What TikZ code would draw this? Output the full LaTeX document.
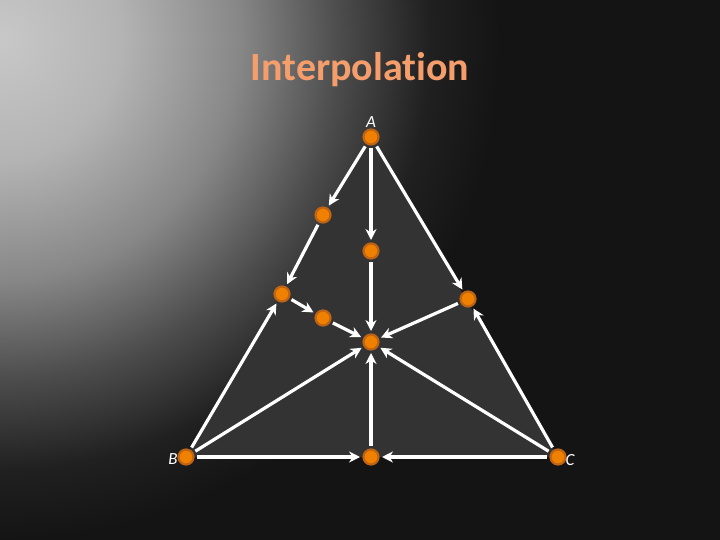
\documentclass[tikz,border=0pt]{standalone}
\usepackage{fontspec}
\setmainfont[Ligatures=NoCommon]{Carlito}
\usetikzlibrary{arrows.meta}
\definecolor{bgdark}{RGB}{20,20,20}
\definecolor{trifill}{RGB}{51,51,51}
\definecolor{titlecol}{RGB}{245,158,108}
\definecolor{ptfill}{RGB}{240,128,0}
\definecolor{ptring}{RGB}{190,100,20}
\pgfdeclareradialshading{bgshade}{\pgfpoint{0bp}{0bp}}{%
  color(0bp)=(rgb,255:red,200;green,200;blue,200);
  color(6bp)=(rgb,255:red,180;green,180;blue,180);
  color(12bp)=(rgb,255:red,135;green,135;blue,135);
  color(17bp)=(rgb,255:red,76;green,76;blue,76);
  color(21.5bp)=(rgb,255:red,32;green,32;blue,32);
  color(25bp)=(rgb,255:red,20;green,20;blue,20);
  color(50bp)=(rgb,255:red,20;green,20;blue,20)}
\tikzset{
  pt/.style={circle,fill=ptfill,draw=ptring,line width=2.2pt,minimum size=15pt,inner sep=0pt,outer sep=3.5pt},
  arr/.style={white,line width=3.2pt,-{Stealth[length=11pt,width=11pt]}},
  lbl/.style={text=white,font=\fontsize{17}{17}\selectfont\itshape,inner sep=0pt}
}
\begin{document}
\begin{tikzpicture}[x=1pt,y=-1pt]
\useasboundingbox (0,0) rectangle (720,540);
\begin{scope}
\clip (0,0) rectangle (720,540);
\fill[bgdark] (0,0) rectangle (720,540);
\shade[shading=bgshade] (0,40) circle (500);
\end{scope}
\fill[trifill] (371,137) -- (186,457) -- (558,457) -- cycle;
\node[font=\fontsize{40}{40}\selectfont\bfseries,text=titlecol] (title) at (360,70) {Interpolation};
\node[pt] (A) at (371,137) {};
\node[pt] (B) at (186,457) {};
\node[pt] (C) at (558,457) {};
\node[pt] (P1) at (323,215) {};
\node[pt] (P2) at (282,294) {};
\node[pt] (P3) at (371,251) {};
\node[pt] (P4) at (323,318) {};
\node[pt] (P5) at (468,299) {};
\node[pt] (M) at (371,342) {};
\node[pt] (P6) at (371,457) {};
\node[lbl] (la) at (371,122) {A};
\node[lbl] (lb) at (173,459) {B};
\node[lbl] (lc) at (570,460) {C};
\draw[arr] (A) -- (P1);
\draw[arr] (P1) -- (P2);
\draw[arr] (A) -- (P3);
\draw[arr] (P3) -- (M);
\draw[arr] (A) -- (P5);
\draw[arr] (P2) -- (P4);
\draw[arr] (P4) -- (M);
\draw[arr] (P5) -- (M);
\draw[arr] (B) -- (P2);
\draw[arr] (C) -- (P5);
\draw[arr] (B) -- (M);
\draw[arr] (C) -- (M);
\draw[arr] (B) -- (P6);
\draw[arr] (C) -- (P6);
\draw[arr] (P6) -- (M);
\end{tikzpicture}
\end{document}
